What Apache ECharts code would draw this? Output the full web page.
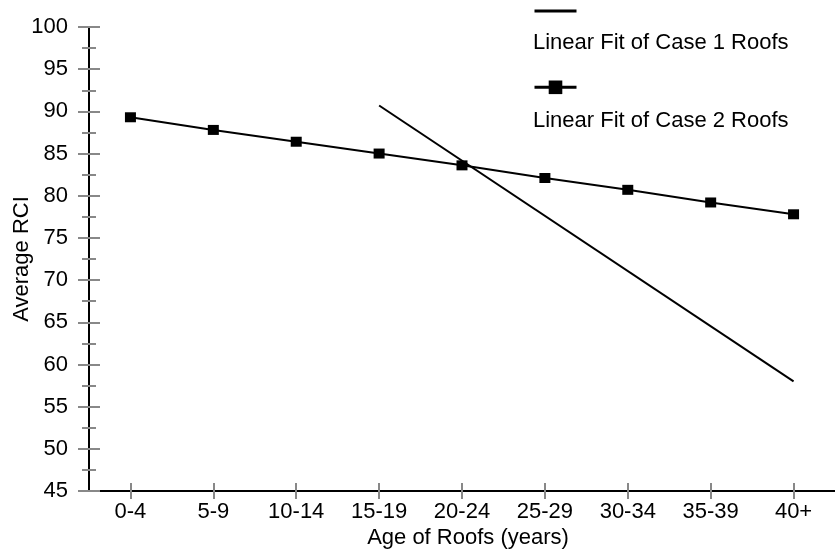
<!DOCTYPE html>
<html>
<head>
<meta charset="utf-8">
<script src="https://cdn.jsdelivr.net/npm/echarts@6/dist/echarts.min.js"></script>
<style>html,body{margin:0;padding:0;background:#fff}#c{width:835px;height:556px}</style>
</head>
<body>
<div id="c"></div>
<script>
var categories = ['0-4','5-9','10-14','15-19','20-24','25-29','30-34','35-39','40+'];
var case1Fit = [null, null, null, 90.7, null, null, null, null, 58.0];
var case2Fit = [89.3, 87.8, 86.4, 85.0, 83.6, 82.1, 80.7, 79.2, 77.8];
var seriesNames = ['Linear Fit of Case 1 Roofs', 'Linear Fit of Case 2 Roofs'];
var yMin = 45, yMax = 100, yStep = 5;

var FONT = 'Liberation Sans, Arial, sans-serif';
var FS = 22;
var tickGray = '#888888';

var chart = echarts.init(document.getElementById('c'), null, {renderer: 'canvas'});
chart.setOption({
  animation: false,
  backgroundColor: '#ffffff',
  grid: {left: 89, right: 0, top: 27, bottom: 65, containLabel: false, outerBoundsMode: 'none'},
  legend: {
    orient: 'vertical', left: 533, top: 2.5, padding: 0,
    itemWidth: 42, itemHeight: 17, itemGap: 61,
    formatter: function(){ return ''; },
    textStyle: {fontSize: 1},
    lineStyle: {width: 3},
    data: [{name: seriesNames[0], itemStyle: {opacity: 0}}, {name: seriesNames[1]}]
  },
  graphic: [
    {type: 'text', left: 533, top: 32, style: {text: seriesNames[0], font: FS + 'px ' + FONT, fill: '#000'}},
    {type: 'text', left: 533, top: 110, style: {text: seriesNames[1], font: FS + 'px ' + FONT, fill: '#000'}}
  ],
  xAxis: [{
    type: 'category', data: categories, boundaryGap: true,
    name: 'Age of Roofs (years)', nameLocation: 'middle', nameGap: 36, nameMoveOverlap: false,
    nameTextStyle: {fontFamily: FONT, fontSize: FS, color: '#000', padding: [0,0,0,12]},
    axisLine: {show: true, lineStyle: {color: '#000', width: 2}},
    axisTick: {show: true, alignWithLabel: true, length: 8, lineStyle: {color: tickGray, width: 2}},
    axisLabel: {fontFamily: FONT, fontSize: FS, color: '#000', margin: 10, interval: 0},
    splitLine: {show: false}
  }, {
    type: 'category', data: categories, boundaryGap: true, position: 'bottom',
    axisLine: {show: false},
    axisTick: {show: true, inside: true, alignWithLabel: true, length: 8, lineStyle: {color: tickGray, width: 2}},
    axisLabel: {show: false},
    splitLine: {show: false}
  }],
  yAxis: [{
    type: 'value', min: yMin, max: yMax, interval: yStep,
    name: 'Average RCI', nameLocation: 'middle', nameGap: 56, nameMoveOverlap: false,
    nameTextStyle: {fontFamily: FONT, fontSize: FS, color: '#000'},
    axisLine: {show: true, lineStyle: {color: '#000', width: 2}},
    axisTick: {show: true, length: 11, lineStyle: {color: tickGray, width: 2}},
    minorTick: {show: true, splitNumber: 2, length: 7, lineStyle: {color: tickGray, width: 2}},
    axisLabel: {fontFamily: FONT, fontSize: FS, color: '#000', margin: 21},
    splitLine: {show: false}
  }, {
    type: 'value', min: yMin, max: yMax, interval: yStep, position: 'left', offset: 0,
    axisLine: {show: false},
    axisTick: {show: true, inside: true, length: 11, lineStyle: {color: tickGray, width: 2}},
    minorTick: {show: true, splitNumber: 2, length: 7, lineStyle: {color: tickGray, width: 2}},
    axisLabel: {show: false},
    splitLine: {show: false}
  }],
  series: [{
    name: seriesNames[0], type: 'line', data: case1Fit, connectNulls: true,
    symbol: 'none', lineStyle: {color: '#000', width: 2}, itemStyle: {color: '#000'}
  }, {
    name: seriesNames[1], type: 'line', data: case2Fit,
    symbol: 'rect', symbolSize: [11, 10], showSymbol: true,
    lineStyle: {color: '#000', width: 2}, itemStyle: {color: '#000'}
  }]
});
</script>
</body>
</html>
